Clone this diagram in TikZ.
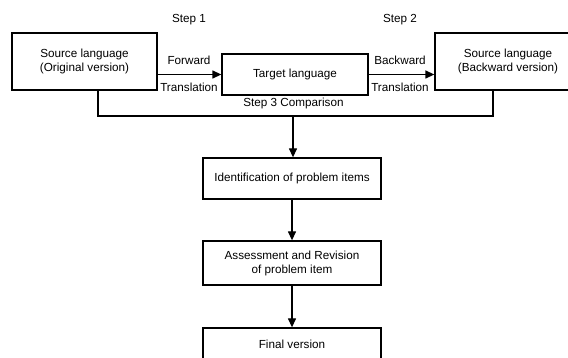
\documentclass[tikz,border=0pt]{standalone}
\usepackage{fontspec}
\setmainfont{Liberation Sans}
\usetikzlibrary{arrows.meta}
\begin{document}
\begin{tikzpicture}[x=1pt,y=-1pt,
  box/.style={draw,line width=1.3pt,align=center,inner sep=0pt,font=\fontsize{11.7}{14}\selectfont},
  lbl/.style={inner sep=0pt,font=\fontsize{11.7}{14}\selectfont},
  conn/.style={line width=1.3pt},
  arr/.style={line width=1.3pt,-{Triangle[length=9pt,width=8pt]}}]
\useasboundingbox (0,0) rectangle (568,358);
\clip (0,0) rectangle (568,358);
\node[box,minimum width=145pt,minimum height=57pt] (src) at (84.5,61.5) {Source language\\(Original version)};
\node[box,minimum width=146pt,minimum height=41pt] (tgt) at (295,74.5) {Target language};
\node[box,minimum width=146pt,minimum height=57pt] (back) at (508,61.5) {Source language\\(Backward version)};
\node[box,minimum width=178pt,minimum height=41pt] (ident) at (292,178.5) {Identification of problem items};
\node[box,minimum width=178pt,minimum height=44pt] (assess) at (292,263) {Assessment and Revision\\of problem item};
\node[box,minimum width=178pt,minimum height=32pt] (final) at (292,344) {Final version};
\node[lbl] (s1) at (189,20) {Step 1};
\node[lbl] (s2) at (400,20) {Step 2};
\node[lbl] (fw) at (189,60) {Forward};
\node[lbl] (ft) at (189,87) {Translation};
\node[lbl] (bw) at (400,60) {Backward};
\node[lbl] (bt) at (400,87) {Translation};
\node[lbl] (s3) at (293.5,103) {Step 3 Comparison};
\coordinate (bl) at (98,116);
\coordinate (br) at (493,116);
\coordinate (bm) at (293,116);
\draw[arr] (tgt.west -| src.east) -- (tgt.west);
\draw[arr] (tgt.east) -- (tgt.east -| back.west);
\draw[conn] (src.south -| bl) -- (bl) -- (br) -- (back.south -| br);
\draw[arr] (bm) -- (bm |- ident.north);
\draw[arr] (ident) -- (assess);
\draw[arr] (assess) -- (final);
\end{tikzpicture}
\end{document}
